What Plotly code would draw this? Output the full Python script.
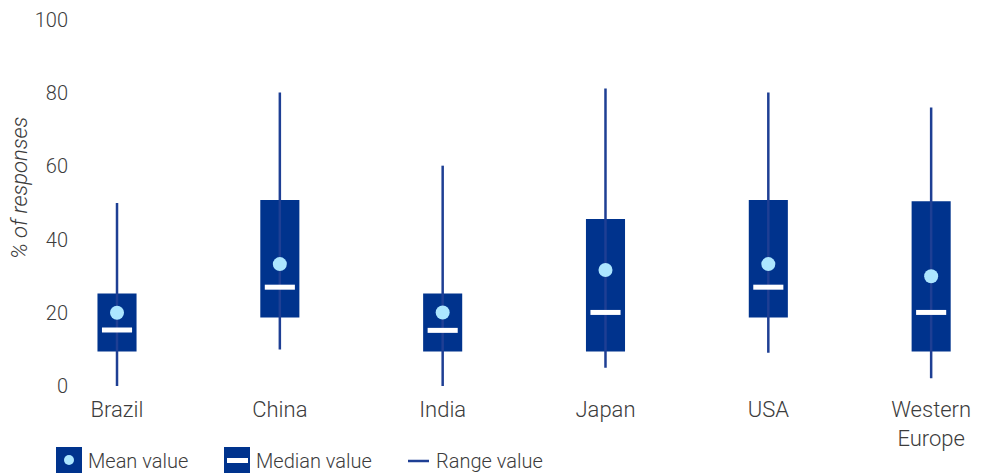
import plotly.graph_objects as go

categories = ["Brazil", "China", "India", "Japan", "USA", "Western<br>Europe"]
range_min = [0, 10.0, 0, 5.0, 9.1, 2.1]
range_max = [50, 80.2, 60.2, 81.3, 80.2, 76.1]
q_low = [9.4, 18.7, 9.4, 9.4, 18.7, 9.4]
q_high = [25.3, 50.8, 25.3, 45.6, 50.8, 50.5]
median_vals = [15.3, 27.0, 15.2, 20.1, 27.0, 20.1]
mean_vals = [20.0, 33.3, 20.1, 31.7, 33.3, 30.0]
y_ticks = [0, 20, 40, 60, 80, 100]

DARK = "#00338D"
LINE = "#1E3F94"
LIGHT = "#ACE6FF"
TXT = "#3C3C3C"
FONT = "Roboto"

xs = list(range(len(categories)))

fig = go.Figure()

# range lines
lx, ly = [], []
for i in xs:
    lx += [i, i, None]
    ly += [range_min[i], range_max[i], None]
fig.add_trace(go.Scatter(x=lx, y=ly, mode="lines", line=dict(color=LINE, width=2.5),
                         hoverinfo="skip", showlegend=False))

# boxes
fig.add_trace(go.Bar(x=xs, y=[h - l for h, l in zip(q_high, q_low)], base=q_low,
                     width=0.24, marker=dict(color=DARK, line=dict(width=0)),
                     showlegend=False))

# median
fig.add_trace(go.Scatter(x=xs, y=median_vals, mode="markers",
                         marker=dict(symbol="line-ew", size=21.5,
                                     line=dict(color="white", width=5)),
                         showlegend=False))

# mean
fig.add_trace(go.Scatter(x=xs, y=mean_vals, mode="markers",
                         marker=dict(symbol="circle", size=14, color=LIGHT,
                                     line=dict(width=0)),
                         showlegend=False))

# page is drawn with an 8px body margin -> work in reference pixels minus 8
OFF = 8
W, H = 992 - OFF, 473 - OFF
L, R, T, B = 75 - OFF, 12, 20 - OFF, 87
pw = W - L - R
ph = H - T - B

def px_x(p):
    return (p - OFF - L) / pw

def px_y(p):
    return (H - B - (p - OFF)) / ph

shapes = []
annotations = []
LEG_FONT = dict(family=FONT, size=20, color=TXT, weight=300)

# custom legend
# mean
shapes.append(dict(type="rect", xref="paper", yref="paper",
                   x0=px_x(56), x1=px_x(82), y0=px_y(473), y1=px_y(447),
                   fillcolor=DARK, line=dict(width=0), layer="above"))
shapes.append(dict(type="circle", xref="paper", yref="paper",
                   x0=px_x(64), x1=px_x(74), y0=px_y(465), y1=px_y(455),
                   fillcolor=LIGHT, line=dict(width=0), layer="above"))
annotations.append(dict(text="Mean value", xref="paper", yref="paper",
                        x=px_x(86), y=px_y(461), xanchor="left", yanchor="middle",
                        showarrow=False, font=LEG_FONT))
# median
shapes.append(dict(type="rect", xref="paper", yref="paper",
                   x0=px_x(224), x1=px_x(250), y0=px_y(473), y1=px_y(447),
                   fillcolor=DARK, line=dict(width=0), layer="above"))
shapes.append(dict(type="rect", xref="paper", yref="paper",
                   x0=px_x(227), x1=px_x(248), y0=px_y(463), y1=px_y(458),
                   fillcolor="white", line=dict(width=0), layer="above"))
annotations.append(dict(text="Median value", xref="paper", yref="paper",
                        x=px_x(254), y=px_y(461), xanchor="left", yanchor="middle",
                        showarrow=False, font=LEG_FONT))
# range
shapes.append(dict(type="line", xref="paper", yref="paper",
                   x0=px_x(408), x1=px_x(429), y0=px_y(461), y1=px_y(461),
                   line=dict(color=LINE, width=2.5), layer="above"))
annotations.append(dict(text="Range value", xref="paper", yref="paper",
                        x=px_x(434), y=px_y(461), xanchor="left", yanchor="middle",
                        showarrow=False, font=LEG_FONT))

# y-axis title
annotations.append(dict(text="<i>% of responses</i>", xref="paper", yref="paper",
                        x=px_x(20), y=px_y(188), textangle=-90,
                        xanchor="center", yanchor="middle", showarrow=False,
                        font=dict(family=FONT, size=22, color=TXT, weight=300)))

fig.update_layout(
    width=W, height=H,
    margin=dict(l=L, r=R, t=T, b=B, pad=0, autoexpand=False),
    plot_bgcolor="white", paper_bgcolor="white",
    showlegend=False,
    shapes=shapes, annotations=annotations,
    font=dict(family=FONT, color=TXT, size=20, weight=300),
    xaxis=dict(range=[-0.258, 5.30], tickmode="array", tickvals=xs, ticktext=categories,
               showgrid=False, zeroline=False, showline=False, ticks="",
               automargin=False, ticklabelstandoff=8,
               tickfont=dict(family=FONT, size=22, color=TXT, weight=300)),
    yaxis=dict(range=[0, 100], tickmode="array", tickvals=y_ticks,
               showgrid=False, zeroline=False, showline=False, ticks="",
               automargin=False, ticklabelstandoff=6,
               tickfont=dict(family=FONT, size=20, color=TXT, weight=300)),
)

fig.write_html("out.html")
